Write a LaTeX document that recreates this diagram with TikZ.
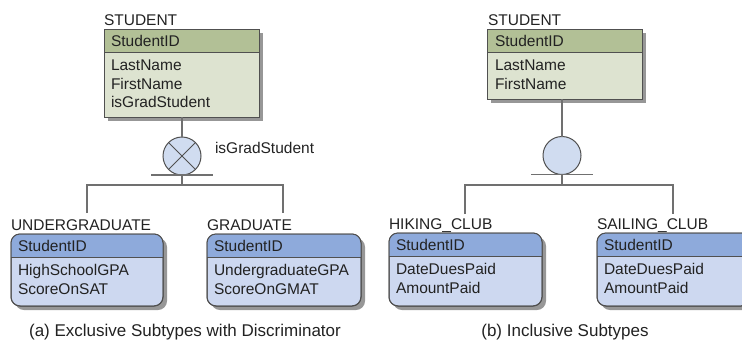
\documentclass[tikz,border=0pt]{standalone}
\usepackage{fontspec}
\setmainfont{Liberation Sans}
\usetikzlibrary{shadows}

\definecolor{stuhdr}{HTML}{B2C096}
\definecolor{stubody}{HTML}{DDE3D0}
\definecolor{subhdr}{HTML}{8EAADB}
\definecolor{subbody}{HTML}{CDD8F0}
\definecolor{discfill}{HTML}{D0DCF0}
\definecolor{edgecol}{HTML}{505050}
\definecolor{wirecol}{HTML}{707070}
\definecolor{ink}{HTML}{222222}

\begin{document}
\begin{tikzpicture}[x=1bp,y=-1bp,
  font=\fontsize{15.5bp}{18bp}\selectfont,
  entity/.style={draw=edgecol, line width=1bp, inner sep=0pt, outer sep=0pt,
    anchor=north west,
    drop shadow={shadow xshift=4bp, shadow yshift=-4bp, fill=black!45, opacity=0.9}},
  supbox/.style={entity, fill=stubody},
  subbox/.style={entity, fill=subbody, rounded corners=9bp},
  txt/.style={anchor=base west, inner sep=0pt, outer sep=0pt, text=ink},
  caption/.style={anchor=base, inner sep=0pt, text=ink,
    font=\fontsize{17bp}{20bp}\selectfont},
  disc/.style={circle, draw=edgecol, line width=1bp, fill=discfill,
    minimum size=38bp, inner sep=0pt, outer sep=0pt},
  wire/.style={draw=wirecol, line width=1.1bp}]

\useasboundingbox (0,0) rectangle (742,343);

% ---------- entity boxes ----------
\node[supbox, minimum width=155bp, minimum height=88bp] (sA) at (104,29) {};
\node[supbox, minimum width=155bp, minimum height=70bp] (sB) at (487,29) {};
\node[subbox, minimum width=152bp, minimum height=72bp] (uA) at (11,234) {};
\node[subbox, minimum width=154bp, minimum height=72bp] (gA) at (207,234) {};
\node[subbox, minimum width=153bp, minimum height=73bp] (hB) at (389,233) {};
\node[subbox, minimum width=153bp, minimum height=73bp] (cB) at (597,233) {};

% key bands and outlines
\foreach \b/\c/\r in {sA/stuhdr/0pt, sB/stuhdr/0pt, uA/subhdr/9bp,
                      gA/subhdr/9bp, hB/subhdr/9bp, cB/subhdr/9bp}{
  \begin{scope}
    \clip[rounded corners=\r] (\b.north west) rectangle (\b.south east);
    \fill[\c] (\b.north west) rectangle ([yshift=-23bp]\b.north east);
  \end{scope}
  \draw[edgecol, line width=1bp] ([yshift=-23bp]\b.north west) -- ([yshift=-23bp]\b.north east);
  \draw[edgecol, line width=1bp, rounded corners=\r] (\b.north west) rectangle (\b.south east);
}

% ---------- texts: left diagram ----------
\node[txt] (sAt) at (104,25) {STUDENT};
\node[txt] (sA1) at (111,46) {StudentID};
\node[txt] (sA2) at (111,70.5) {LastName};
\node[txt] (sA3) at (111,89) {FirstName};
\node[txt] (sA4) at (111,107.5) {isGradStudent};

\node[txt] (uAt) at (11,230) {UNDERGRADUATE};
\node[txt] (uA1) at (18,251) {StudentID};
\node[txt] (uA2) at (18,275.5) {HighSchoolGPA};
\node[txt] (uA3) at (18,294) {ScoreOnSAT};

\node[txt] (gAt) at (207,230) {GRADUATE};
\node[txt] (gA1) at (214,251) {StudentID};
\node[txt] (gA2) at (214,275.5) {UndergraduateGPA};
\node[txt] (gA3) at (214,294) {ScoreOnGMAT};

\node[txt] (dAl) at (215,153.5) {isGradStudent};
\node[caption] (capA) at (185,336) {(a) Exclusive Subtypes with Discriminator};

% ---------- texts: right diagram ----------
\node[txt] (sBt) at (488,25) {STUDENT};
\node[txt] (sB1) at (495,46) {StudentID};
\node[txt] (sB2) at (495,70.5) {LastName};
\node[txt] (sB3) at (495,89) {FirstName};

\node[txt] (hBt) at (389,229) {HIKING\_CLUB};
\node[txt] (hB1) at (396,250) {StudentID};
\node[txt] (hB2) at (396,274.5) {DateDuesPaid};
\node[txt] (hB3) at (396,293) {AmountPaid};

\node[txt] (cBt) at (597,229) {SAILING\_CLUB};
\node[txt] (cB1) at (604,250) {StudentID};
\node[txt] (cB2) at (604,274.5) {DateDuesPaid};
\node[txt] (cB3) at (604,293) {AmountPaid};

\node[caption] (capB) at (565,336) {(b) Inclusive Subtypes};

% ---------- discriminators ----------
\node[disc] (dA) at (182,156) {};
\draw[edgecol, line width=1bp] (dA.north west) -- (dA.south east)
                               (dA.north east) -- (dA.south west);
\node[disc] (dB) at (562,155.5) {};

% ---------- connectors: left ----------
\coordinate (jA) at (182,185);
\coordinate (lA) at (87,185);
\coordinate (rA) at (283,185);
\coordinate (lAe) at (87,213);
\coordinate (rAe) at (283,213);
\draw[wire] (dA.north |- sA.south) -- (dA.north);
\draw[wire] ([xshift=-31bp]dA.south) -- ([xshift=31bp]dA.south);
\draw[wire] (dA.south) -- (jA);
\draw[wire] (lAe) -- (lA) -- (rA) -- (rAe);

% ---------- connectors: right ----------
\coordinate (jB) at (562,185);
\coordinate (lB) at (465,185);
\coordinate (rB) at (673,185);
\coordinate (lBe) at (465,214);
\coordinate (rBe) at (673,214);
\draw[wire] (dB.north |- sB.south) -- (dB.north);
\draw[wire] ([xshift=-31bp]dB.south) -- ([xshift=31bp]dB.south);
\draw[wire] (dB.south) -- (jB);
\draw[wire] (lBe) -- (lB) -- (rB) -- (rBe);

\end{tikzpicture}
\end{document}
